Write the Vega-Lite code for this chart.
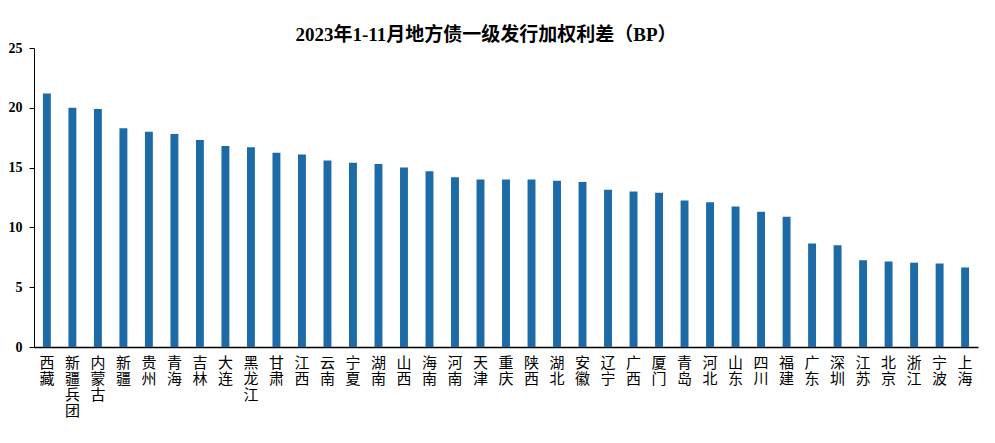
{
  "$schema": "https://vega.github.io/schema/vega-lite/v6.json",
  "width": 944,
  "height": 299,
  "autosize": {"type": "none"},
  "padding": {"left": 34, "top": 48, "right": 17, "bottom": 96},
  "background": "white",
  "title": {
    "text": "2023年1-11月地方债一级发行加权利差（BP）",
    "font": "Liberation Serif, Noto Sans CJK SC",
    "fontSize": 19,
    "fontWeight": "bold",
    "color": "#000000",
    "anchor": "middle",
    "baseline": "bottom",
    "offset": 5,
    "dx": -20,
    "dy": 28
  },
  "data": {
    "values": [
      {"region": "西藏", "spread": 21.2},
      {"region": "新疆兵团", "spread": 20.0},
      {"region": "内蒙古", "spread": 19.9},
      {"region": "新疆", "spread": 18.3},
      {"region": "贵州", "spread": 18.0},
      {"region": "青海", "spread": 17.8},
      {"region": "吉林", "spread": 17.3},
      {"region": "大连", "spread": 16.8},
      {"region": "黑龙江", "spread": 16.7},
      {"region": "甘肃", "spread": 16.25},
      {"region": "江西", "spread": 16.1},
      {"region": "云南", "spread": 15.6},
      {"region": "宁夏", "spread": 15.4},
      {"region": "湖南", "spread": 15.3},
      {"region": "山西", "spread": 15.0},
      {"region": "海南", "spread": 14.7},
      {"region": "河南", "spread": 14.2},
      {"region": "天津", "spread": 14.0},
      {"region": "重庆", "spread": 14.0},
      {"region": "陕西", "spread": 14.0},
      {"region": "湖北", "spread": 13.9},
      {"region": "安徽", "spread": 13.8},
      {"region": "辽宁", "spread": 13.15},
      {"region": "广西", "spread": 13.0},
      {"region": "厦门", "spread": 12.9},
      {"region": "青岛", "spread": 12.25},
      {"region": "河北", "spread": 12.1},
      {"region": "山东", "spread": 11.75},
      {"region": "四川", "spread": 11.3},
      {"region": "福建", "spread": 10.9},
      {"region": "广东", "spread": 8.65},
      {"region": "深圳", "spread": 8.5},
      {"region": "江苏", "spread": 7.25},
      {"region": "北京", "spread": 7.15},
      {"region": "浙江", "spread": 7.05},
      {"region": "宁波", "spread": 6.98},
      {"region": "上海", "spread": 6.65}
    ]
  },
  "mark": {"type": "bar", "color": "#1c6aa6"},
  "encoding": {
    "x": {
      "field": "region",
      "type": "nominal",
      "sort": null,
      "scale": {"paddingInner": 0.69, "paddingOuter": 0.35},
      "axis": {
        "title": null,
        "labelAngle": 0,
        "labelExpr": "split(datum.value, '')",
        "labelFont": "Noto Sans CJK SC",
        "labelFontSize": 15,
        "labelLineHeight": 16,
        "labelColor": "#000000",
        "labelPadding": 8,
        "labelBaseline": "top",
        "labelOverlap": false,
        "ticks": false,
        "domainColor": "#000000",
        "domainWidth": 1.5,
        "grid": false
      }
    },
    "y": {
      "field": "spread",
      "type": "quantitative",
      "scale": {"domain": [0, 25], "nice": false},
      "axis": {
        "title": null,
        "values": [0, 5, 10, 15, 20, 25],
        "labelFont": "Liberation Serif",
        "labelFontSize": 14,
        "labelFontWeight": "bold",
        "labelColor": "#000000",
        "labelPadding": 7,
        "tickSize": 5,
        "tickColor": "#000000",
        "domainColor": "#000000",
        "grid": false
      }
    }
  },
  "config": {"view": {"stroke": null}}
}
